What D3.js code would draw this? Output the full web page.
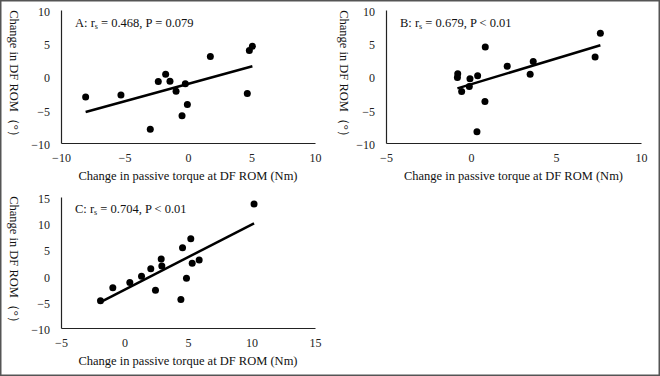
<!DOCTYPE html>
<html>
<head>
<meta charset="utf-8">
<script src="https://cdn.jsdelivr.net/npm/d3@7"></script>
<style>
  body { margin: 0; background: #fff; }
  svg { display: block; font-family: "Liberation Serif", "Times New Roman", serif; }
</style>
</head>
<body>
<div id="chart"></div>
<script>
// Panel A: change in passive torque (Nm) vs change in DF ROM (deg)
const torqueA = [-8.06, -5.28, -2.97, -2.34, -1.76, -1.42, -0.94, -0.47, -0.21, -0.05, 1.76, 4.67, 4.83, 5.07];
const romA = [-3.1, -2.8, -7.95, -0.75, 0.35, -0.7, -2.2, -5.9, -1.1, -4.2, 3.0, -2.55, 3.9, 4.55];

// Panel B
const torqueB = [-0.78, -0.80, -0.55, -0.06, -0.10, 0.39, 0.35, 0.82, 0.84, 2.13, 3.48, 3.66, 7.30, 7.61];
const romB = [0.4, -0.15, -2.25, -0.35, -1.5, 0.1, -8.3, -3.75, 4.45, 1.55, 0.35, 2.25, 2.95, 6.5];

// Panel C
const torqueC = [-1.89, -0.92, 0.42, 1.34, 2.07, 2.44, 2.89, 2.94, 4.44, 4.57, 4.88, 5.22, 5.33, 5.88, 10.2];
const romC = [-4.8, -2.3, -1.33, -0.13, 1.33, -2.78, 3.16, 1.84, -4.56, 5.32, -0.5, 7.03, 2.34, 2.97, 13.67];

// axis ticks
const xTicksA = [-10, -5, 0, 5, 10];
const xTicksB = [-5, 0, 5, 10];
const xTicksC = [-5, 0, 5, 10, 15];
const yTicksAB = [-10, -5, 0, 5, 10];
const yTicksC = [-10, -5, 0, 5, 10, 15];

const labels = [
  { letter: 'A', rs: '0.468', p: 'P = 0.079' },
  { letter: 'B', rs: '0.679', p: 'P < 0.01' },
  { letter: 'C', rs: '0.704', p: 'P < 0.01' }
];

const xTitle = 'Change in passive torque at DF ROM (Nm)';
const yTitle = 'Change in DF ROM（°）';

const W = 660, H = 376;
const svg = d3.select('#chart').append('svg')
  .attr('width', W)
  .attr('height', H);

svg.append('rect')
  .attr('x', 0.75).attr('y', 0.75)
  .attr('width', W - 1.5).attr('height', H - 1.5)
  .attr('fill', 'none')
  .attr('stroke', '#555')
  .attr('stroke-width', 1.5);

// least squares fit, same as the Excel trendline
function fit(xs, ys) {
  const mx = d3.mean(xs), my = d3.mean(ys);
  let sxy = 0, sxx = 0;
  xs.forEach((x, i) => { sxy += (x - mx) * (ys[i] - my); sxx += (x - mx) * (x - mx); });
  const b = sxy / sxx;
  return { b, a: my - b * mx };
}

function drawPanel(opt) {
  const g = svg.append('g').attr('transform', `translate(${opt.left},${opt.top})`);
  const x = d3.scaleLinear().domain(d3.extent(opt.xTicks)).range([0, opt.width]);
  const y = d3.scaleLinear().domain(d3.extent(opt.yTicks)).range([opt.height, 0]);

  // axes: only the line and the labels
  const xAxis = g.append('g')
    .attr('transform', `translate(0,${opt.height})`)
    .call(d3.axisBottom(x).tickValues(opt.xTicks).tickSize(0).tickPadding(10).tickFormat(d3.format('d')));
  const yAxis = g.append('g')
    .call(d3.axisLeft(y).tickValues(opt.yTicks).tickSize(0).tickPadding(11).tickFormat(d3.format('d')));
  [xAxis, yAxis].forEach(a => {
    a.select('.domain').attr('stroke', '#222').attr('stroke-width', 1.2);
    a.selectAll('text')
      .attr('fill', '#222')
      .style('font-family', '"Liberation Serif", serif')
      .style('font-size', '12px');
  });
  yAxis.selectAll('.tick text').attr('dy', '0.45em');

  // trendline over the data range
  const f = fit(opt.xs, opt.ys);
  const ext = d3.extent(opt.xs);
  g.append('line')
    .attr('x1', x(ext[0])).attr('y1', y(f.a + f.b * ext[0]))
    .attr('x2', x(ext[1])).attr('y2', y(f.a + f.b * ext[1]))
    .attr('stroke', '#000')
    .attr('stroke-width', 2.5);

  // points
  g.selectAll('.dot')
    .data(opt.xs.map((v, i) => [v, opt.ys[i]]))
    .enter()
    .append('circle')
    .attr('class', 'dot')
    .attr('cx', d => x(d[0]))
    .attr('cy', d => y(d[1]))
    .attr('r', 3.5)
    .attr('fill', '#000');

  // stats label
  const t = g.append('text')
    .attr('x', 14)
    .attr('y', opt.labelY)
    .style('font-size', '12.5px')
    .attr('fill', '#111');
  t.append('tspan').text(`${opt.label.letter}: r`);
  t.append('tspan').attr('baseline-shift', '-25%').style('font-size', '8px').text('s');
  t.append('tspan').text(` = ${opt.label.rs}, ${opt.label.p}`);

  // titles
  g.append('text')
    .attr('x', opt.width / 2)
    .attr('y', opt.height + 37)
    .attr('text-anchor', 'middle')
    .style('font-size', '12.5px')
    .attr('fill', '#111')
    .text(xTitle);

  // rotated clockwise, reads top to bottom
  g.append('text')
    .attr('transform', 'rotate(90)')
    .attr('x', opt.height / 2)
    .attr('y', opt.titleGap)
    .attr('text-anchor', 'middle')
    .style('font-size', '12.5px')
    .attr('fill', '#111')
    .text(yTitle);
}

drawPanel({ left: 61, top: 10, width: 254, height: 133, xTicks: xTicksA, yTicks: yTicksAB,
  xs: torqueA, ys: romA, label: labels[0], labelY: 17, titleGap: 51 });
drawPanel({ left: 386, top: 10, width: 255, height: 133, xTicks: xTicksB, yTicks: yTicksAB,
  xs: torqueB, ys: romB, label: labels[1], labelY: 17, titleGap: 46 });
drawPanel({ left: 61, top: 197, width: 254, height: 131, xTicks: xTicksC, yTicks: yTicksC,
  xs: torqueC, ys: romC, label: labels[2], labelY: 16, titleGap: 51 });
</script>
</body>
</html>
